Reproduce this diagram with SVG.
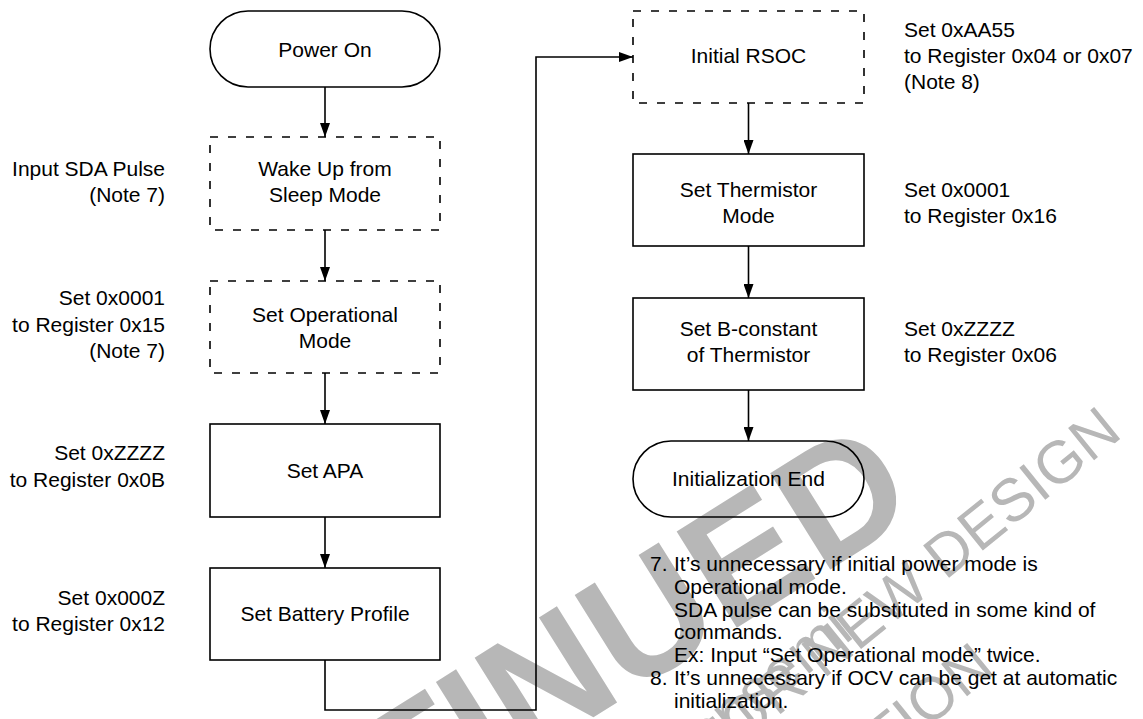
<svg xmlns="http://www.w3.org/2000/svg" width="1143" height="719" viewBox="0 0 1143 719">
  <style>
    .shape{fill:none;stroke:#000;stroke-width:1.6}
    .dash{stroke-dasharray:8 10}
    .wire{fill:none;stroke:#000;stroke-width:1.6}
    .t{font-family:"Liberation Sans",Arial,Helvetica,sans-serif;font-size:21px;fill:#000}
    .c{text-anchor:middle}
    .r{text-anchor:end}
    .wm{font-family:"Liberation Sans",Arial,Helvetica,sans-serif;fill:#b7b7b7}
  </style>
  <defs>
    <marker id="arrow" markerUnits="userSpaceOnUse" markerWidth="14" markerHeight="10" refX="14" refY="5" orient="auto">
      <path d="M0,0 L14,5 L0,10 Z" fill="#000"/>
    </marker>
  </defs>
  <rect width="1143" height="719" fill="#fff"/>

  <!-- background status stamp -->
  <g id="watermark">
    <text class="wm" font-size="165" font-weight="bold" text-anchor="end" transform="translate(922,512) rotate(-32)">DISCONTINUED</text>
    <text class="wm" font-size="60" text-anchor="end" transform="translate(1124,436) rotate(-39)">NOT RECOMMENDED FOR NEW DESIGN</text>
    <text class="wm" font-size="60" transform="translate(705,758) rotate(-39)">onsemi</text>
    <text class="wm" font-size="60" text-anchor="end" transform="translate(997,672) rotate(-39)">INFORMATION</text>
  </g>

  <g id="connectors">
    <path class="wire" d="M325,87 V137" marker-end="url(#arrow)"/>
    <path class="wire" d="M325,230 V281" marker-end="url(#arrow)"/>
    <path class="wire" d="M325,373 V424" marker-end="url(#arrow)"/>
    <path class="wire" d="M325,517 V568" marker-end="url(#arrow)"/>
    <path class="wire" d="M325,660 V710 H536 V57 H633" marker-end="url(#arrow)"/>
    <path class="wire" d="M748.5,103 V154" marker-end="url(#arrow)"/>
    <path class="wire" d="M748.5,246 V298" marker-end="url(#arrow)"/>
    <path class="wire" d="M748.5,390 V441" marker-end="url(#arrow)"/>
  </g>

  <!-- left column -->
  <g id="power-on">
    <rect class="shape" x="210" y="11" width="230" height="76" rx="38" ry="38"/>
    <text class="t c" x="325" y="57">Power On</text>
  </g>
  <g id="wake-up">
    <rect class="shape dash" x="210" y="137" width="230" height="93"/>
    <text class="t c" x="325" y="176">Wake Up from</text>
    <text class="t c" x="325" y="202">Sleep Mode</text>
    <text class="t r" x="165" y="176">Input SDA Pulse</text>
    <text class="t r" x="165" y="202">(Note 7)</text>
  </g>
  <g id="set-operational-mode">
    <rect class="shape dash" x="210" y="281" width="230" height="92"/>
    <text class="t c" x="325" y="322">Set Operational</text>
    <text class="t c" x="325" y="348">Mode</text>
    <text class="t r" x="165" y="305">Set 0x0001</text>
    <text class="t r" x="165" y="332">to Register 0x15</text>
    <text class="t r" x="165" y="358">(Note 7)</text>
  </g>
  <g id="set-apa">
    <rect class="shape" x="210" y="424" width="230" height="93"/>
    <text class="t c" x="325" y="478">Set APA</text>
    <text class="t r" x="165" y="460">Set 0xZZZZ</text>
    <text class="t r" x="165" y="487">to Register 0x0B</text>
  </g>
  <g id="set-battery-profile">
    <rect class="shape" x="210" y="568" width="230" height="92"/>
    <text class="t c" x="325" y="621">Set Battery Profile</text>
    <text class="t r" x="165" y="605">Set 0x000Z</text>
    <text class="t r" x="165" y="631">to Register 0x12</text>
  </g>

  <!-- right column -->
  <g id="initial-rsoc">
    <rect class="shape dash" x="633" y="11" width="231" height="92"/>
    <text class="t c" x="748.5" y="63">Initial RSOC</text>
    <text class="t" x="904" y="37">Set 0xAA55</text>
    <text class="t" x="904" y="63">to Register 0x04 or 0x07</text>
    <text class="t" x="904" y="89">(Note 8)</text>
  </g>
  <g id="set-thermistor-mode">
    <rect class="shape" x="633" y="154" width="231" height="92"/>
    <text class="t c" x="748.5" y="197">Set Thermistor</text>
    <text class="t c" x="748.5" y="223">Mode</text>
    <text class="t" x="904" y="197">Set 0x0001</text>
    <text class="t" x="904" y="223">to Register 0x16</text>
  </g>
  <g id="set-b-constant">
    <rect class="shape" x="633" y="298" width="231" height="92"/>
    <text class="t c" x="748.5" y="336">Set B-constant</text>
    <text class="t c" x="748.5" y="362">of Thermistor</text>
    <text class="t" x="904" y="336">Set 0xZZZZ</text>
    <text class="t" x="904" y="362">to Register 0x06</text>
  </g>
  <g id="initialization-end">
    <rect class="shape" x="633" y="441" width="231" height="76" rx="38" ry="38"/>
    <text class="t c" x="748.5" y="486">Initialization End</text>
  </g>

  <!-- footnotes -->
  <g id="notes" class="t">
    <text x="650" y="571">7.</text>
    <text x="674" y="571">It’s unnecessary if initial power mode is</text>
    <text x="674" y="593.8">Operational mode.</text>
    <text x="674" y="616.6">SDA pulse can be substituted in some kind of</text>
    <text x="674" y="639.4">commands.</text>
    <text x="674" y="662.2">Ex: Input “Set Operational mode” twice.</text>
    <text x="650" y="685">8.</text>
    <text x="674" y="685">It’s unnecessary if OCV can be get at automatic</text>
    <text x="674" y="707.8">initialization.</text>
  </g>
</svg>
